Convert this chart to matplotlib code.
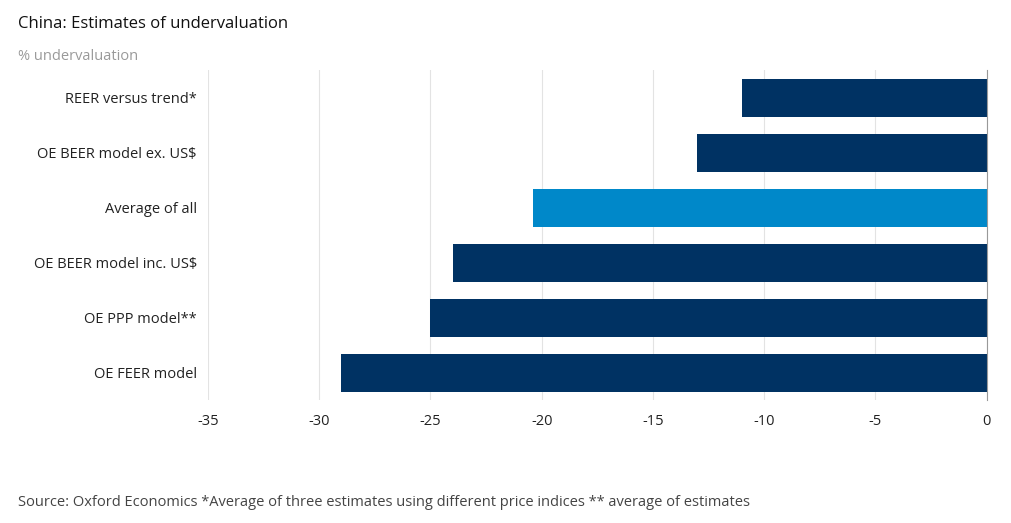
import matplotlib
matplotlib.use("Agg")
import matplotlib.pyplot as plt

categories = ["REER versus trend*", "OE BEER model ex. US$", "Average of all",
              "OE BEER model inc. US$", "OE PPP model**", "OE FEER model"]
values = [-11.0, -13.0, -20.4, -24.0, -25.0, -29.0]
colors = ["#003263", "#003263", "#0088c9", "#003263", "#003263", "#003263"]
xticks = [-35, -30, -25, -20, -15, -10, -5, 0]

plt.rcParams['font.family'] = ['Open Sans', 'DejaVu Sans']
fig = plt.figure(figsize=(10.12, 5.23), dpi=100)
ax = fig.add_axes([0.2055, 0.235, 0.7695, 0.631])
y = list(range(len(categories)))[::-1]
ax.barh(y, values, color=colors, height=0.69, zorder=3)
ax.set_xlim(-35, 0)
ax.set_ylim(-0.5, len(categories) - 0.5)
ax.set_yticks(y)
ax.set_yticklabels(categories, fontsize=10.5, color="#222222")
ax.set_xticks(xticks)
ax.set_xticklabels([("\u2212" if v < 0 else "") + str(abs(v)) if False else str(v) for v in xticks],
                   fontsize=10.5, color="#222222")
ax.tick_params(axis='both', length=0, pad=10)
ax.tick_params(axis='y', pad=8)
ax.grid(axis='x', color="#e3e3e3", linewidth=0.8, zorder=0)
for s in ["top", "left", "bottom"]:
    ax.spines[s].set_visible(False)
ax.spines["right"].set_color("#999999")
ax.spines["right"].set_linewidth(0.8)
ax.spines["right"].set_zorder(4)

fig.text(0.018, 0.955, "China: Estimates of undervaluation", fontsize=12, color="#111111", va="center")
fig.text(0.018, 0.892, "% undervaluation", fontsize=10.5, color="#9a9a9a", va="center")
fig.text(0.018, 0.04, "Source: Oxford Economics *Average of three estimates using different price indices ** average of estimates",
         fontsize=10.5, color="#444444", va="center")
fig.savefig("out.png", dpi=100)
